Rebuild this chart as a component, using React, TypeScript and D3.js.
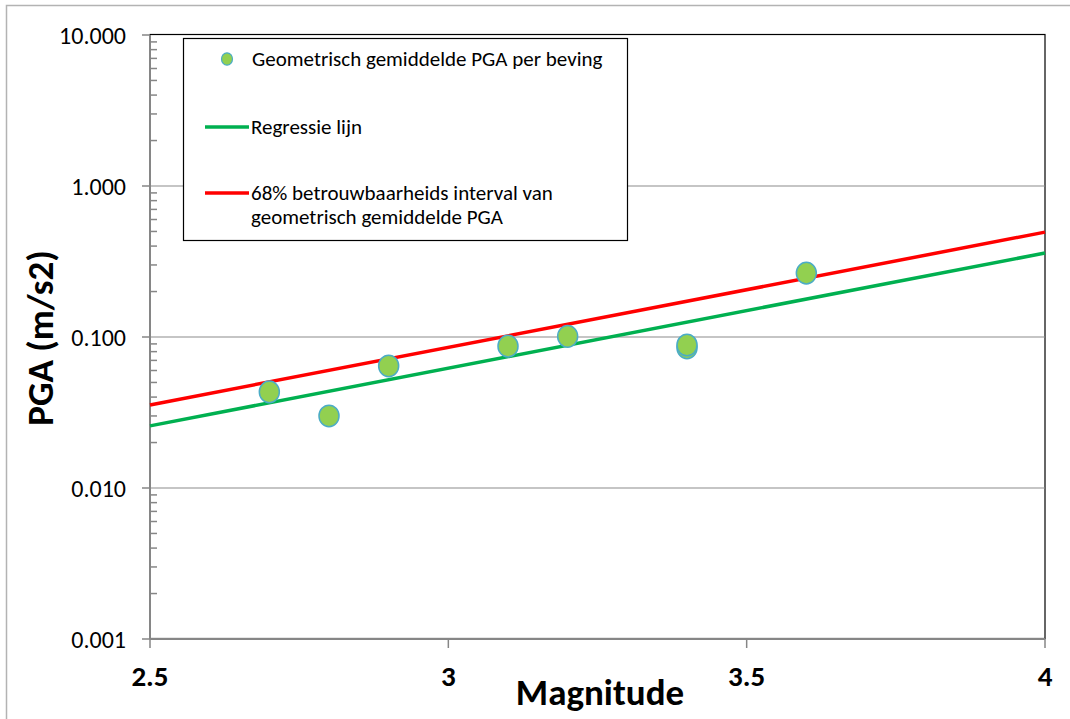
import * as d3 from 'd3';

const width = 1070;
const height = 719;
const margin = { top: 35, right: 25, bottom: 80, left: 150 };

// magnitude and geometric-mean PGA (m/s2) per earthquake
const magnitudes = [2.7, 2.8, 2.9, 3.1, 3.2, 3.4, 3.4, 3.6];
const pga = [0.0433, 0.030, 0.0643, 0.087, 0.101, 0.0846, 0.0885, 0.265];

// regression line and 68% upper bound, evaluated at the axis ends
const lineMagnitudes = [2.5, 4];
const regression = [0.0258, 0.36];
const upperBound = [0.0355, 0.495];

const xTicks = [2.5, 3, 3.5, 4];
const yTicks = [0.001, 0.01, 0.1, 1, 10];

const font = 'Carlito, Calibri, Lato, sans-serif';

export default function App() {
  const innerWidth = width - margin.left - margin.right;
  const innerHeight = height - margin.top - margin.bottom;

  const x = d3.scaleLinear().domain([2.5, 4]).range([0, innerWidth]);
  const y = d3.scaleLog().domain([0.001, 10]).range([innerHeight, 0]);

  const line = d3
    .line<[number, number]>()
    .x(d => x(d[0]))
    .y(d => y(d[1]));

  const minorTicks = y.ticks().filter(t => !yTicks.some(m => Math.abs(m - t) < t * 1e-6));

  const fmt = d3.format('.3f');

  return (
    <svg
      width={width}
      height={height}
      style={{ position: 'absolute', left: 0, top: 0, display: 'block', fontFamily: font }}
    >
      <rect x={0} y={0} width={width} height={height} fill='white' />
      <rect x={6.5} y={5.5} width={width + 20} height={height + 20} fill='none' stroke='#b3b3b3' strokeWidth={1.5} />

      <g transform={`translate(${margin.left}, ${margin.top})`}>
        {/* plot frame */}
        <rect x={0} y={-0.5} width={innerWidth} height={innerHeight} fill='none' stroke='#000' strokeWidth={1.2} />

        {yTicks.slice(1, -1).map(t => (
          <line key={t} x1={0} x2={innerWidth} y1={y(t)} y2={y(t)} stroke='#8c8c8c' strokeWidth={1.2} />
        ))}

        {/* y axis */}
        <line x1={0} x2={0} y1={0} y2={innerHeight} stroke='#868686' strokeWidth={2} />
        {yTicks.map(t => (
          <g key={t} transform={`translate(0, ${y(t)})`}>
            <line x1={-8} x2={0} stroke='#868686' strokeWidth={1.5} />
            <text x={-24} dy='0.36em' textAnchor='end' fontSize={24} fill='#000'>
              {fmt(t)}
            </text>
          </g>
        ))}
        {minorTicks.map(t => (
          <line key={t} x1={0} x2={7} y1={y(t)} y2={y(t)} stroke='#868686' strokeWidth={1.5} />
        ))}

        {/* x axis */}
        <line x1={0} x2={innerWidth} y1={innerHeight} y2={innerHeight} stroke='#868686' strokeWidth={2} />
        {xTicks.map(t => (
          <g key={t} transform={`translate(${x(t)}, ${innerHeight})`}>
            <line y1={0} y2={9} stroke='#868686' strokeWidth={1.5} />
            <text y={47} textAnchor='middle' fontSize={29} fontWeight='bold' fill='#000'>
              {t}
            </text>
          </g>
        ))}

        {/* lines */}
        <path
          d={line(lineMagnitudes.map((m, i) => [m, regression[i]]) as [number, number][]) || ''}
          fill='none'
          stroke='#00b050'
          strokeWidth={3.5}
        />
        <path
          d={line(lineMagnitudes.map((m, i) => [m, upperBound[i]]) as [number, number][]) || ''}
          fill='none'
          stroke='#ff0000'
          strokeWidth={3.5}
        />

        {/* points */}
        {magnitudes.map((m, i) => (
          <ellipse
            key={i}
            cx={x(m)}
            cy={y(pga[i])}
            rx={10}
            ry={10.8}
            fill='#92d050'
            stroke='#4bacc6'
            strokeWidth={1.5}
          />
        ))}

        {/* legend */}
        <g transform='translate(33, 3)'>
          <rect x={0.5} y={0.5} width={444} height={202} fill='white' stroke='#000' strokeWidth={1.2} />
          <ellipse cx={44} cy={21} rx={5.5} ry={6.2} fill='#92d050' stroke='#4bacc6' strokeWidth={1.2} />
          <text x={69} y={21} dy='0.35em' fontSize={21} fill='#000'>
            Geometrisch gemiddelde PGA per beving
          </text>
          <line x1={22} x2={66} y1={89} y2={89} stroke='#00b050' strokeWidth={3.5} />
          <text x={68} y={89} dy='0.35em' fontSize={21} fill='#000'>
            Regressie lijn
          </text>
          <line x1={22} x2={66} y1={155} y2={155} stroke='#ff0000' strokeWidth={3.5} />
          <text x={68} y={155} dy='0.35em' fontSize={21} fill='#000'>
            68% betrouwbaarheids interval van
          </text>
          <text x={68} y={179} dy='0.35em' fontSize={21} fill='#000'>
            geometrisch gemiddelde PGA
          </text>
        </g>
      </g>

      {/* axis titles */}
      <text x={600} y={705} textAnchor='middle' fontSize={37} fontWeight='bold' fill='#000'>
        Magnitude
      </text>
      <text
        transform={`translate(53, 338) rotate(-90)`}
        textAnchor='middle'
        fontSize={37}
        fontWeight='bold'
        fill='#000'
      >
        PGA (m/s2)
      </text>
    </svg>
  );
}
